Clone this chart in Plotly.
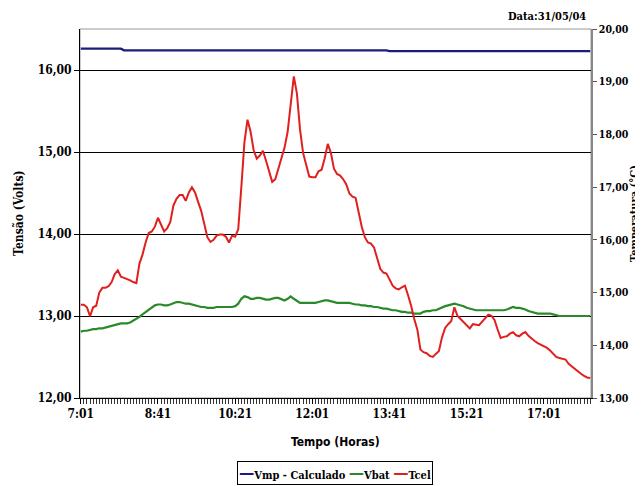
import plotly.graph_objects as go

# time axis: samples every 4 minutes starting 7:01 (minutes since midnight)
start_min = 421
step_min = 4
n_points = 166
time_min = [start_min + step_min * i for i in range(n_points)]

tick_minutes = [421, 521, 621, 721, 821, 921, 1021]
tick_labels = ["7:01", "8:41", "10:21", "12:01", "13:41", "15:21", "17:01"]

vmp = [16.26] * 14 + [16.24] * 86 + [16.23] * 66

vbat = [
    12.81, 12.82, 12.82, 12.83, 12.84, 12.84, 12.85, 12.85, 12.86, 12.87,
    12.88, 12.89, 12.90, 12.91, 12.91, 12.91, 12.92, 12.94, 12.97, 12.99,
    13.02, 13.05, 13.08, 13.11, 13.13, 13.14, 13.14, 13.13, 13.13, 13.14,
    13.16, 13.17, 13.17, 13.16, 13.15, 13.15, 13.14, 13.13, 13.12, 13.11,
    13.11, 13.10, 13.10, 13.10, 13.11, 13.11, 13.11, 13.11, 13.11, 13.11,
    13.12, 13.15, 13.21, 13.24, 13.23, 13.21, 13.21, 13.22, 13.22, 13.21,
    13.20, 13.20, 13.21, 13.22, 13.22, 13.20, 13.19, 13.21, 13.24, 13.21,
    13.18, 13.16, 13.16, 13.16, 13.16, 13.16, 13.16, 13.17, 13.18, 13.19,
    13.19, 13.18, 13.17, 13.16, 13.16, 13.16, 13.16, 13.16, 13.15, 13.14,
    13.14, 13.13, 13.13, 13.12, 13.12, 13.11, 13.11, 13.10, 13.09, 13.09,
    13.08, 13.07, 13.07, 13.06, 13.05, 13.05, 13.04, 13.04, 13.03, 13.03,
    13.03, 13.05, 13.06, 13.06, 13.07, 13.07, 13.09, 13.11, 13.12, 13.13,
    13.14, 13.15, 13.14, 13.13, 13.12, 13.10, 13.09, 13.08, 13.07, 13.07,
    13.07, 13.07, 13.07, 13.07, 13.07, 13.07, 13.07, 13.07, 13.08, 13.10,
    13.11, 13.10, 13.10, 13.09, 13.08, 13.06, 13.05, 13.04, 13.03, 13.03,
    13.03, 13.03, 13.03, 13.02, 13.01, 13.00, 13.00, 13.00, 13.00, 13.00,
    13.00, 13.00, 13.00, 13.00, 13.00, 13.00,
]

tcel = [
    14.77, 14.77, 14.72, 14.55, 14.72, 14.75, 15.00, 15.09, 15.09, 15.12,
    15.20, 15.35, 15.42, 15.30, 15.28, 15.26, 15.23, 15.20, 15.18, 15.55,
    15.72, 15.95, 16.13, 16.16, 16.25, 16.42, 16.30, 16.16, 16.22, 16.34,
    16.65, 16.78, 16.85, 16.85, 16.74, 16.90, 17.00, 16.90, 16.72, 16.55,
    16.30, 16.05, 15.96, 16.00, 16.08, 16.10, 16.10, 16.06, 15.95, 16.08,
    16.06, 16.20, 17.00, 17.85, 18.28, 18.05, 17.70, 17.54, 17.60, 17.69,
    17.50, 17.30, 17.10, 17.15, 17.35, 17.60, 17.75, 18.05, 18.58, 19.10,
    18.78, 18.10, 17.65, 17.42, 17.20, 17.19, 17.19, 17.30, 17.33, 17.55,
    17.82, 17.65, 17.35, 17.25, 17.22, 17.15, 17.05, 16.88, 16.82, 16.80,
    16.50, 16.25, 16.05, 15.95, 15.93, 15.85, 15.65, 15.45, 15.38, 15.36,
    15.25, 15.13, 15.08, 15.06, 15.10, 15.13, 14.95, 14.75, 14.50, 14.30,
    13.92, 13.87, 13.85, 13.80, 13.78, 13.84, 13.89, 14.15, 14.33, 14.40,
    14.46, 14.72, 14.56, 14.50, 14.44, 14.38, 14.32, 14.40, 14.39, 14.38,
    14.45, 14.52, 14.58, 14.56, 14.48, 14.30, 14.14, 14.16, 14.17, 14.22,
    14.25, 14.19, 14.17, 14.22, 14.25, 14.18, 14.12, 14.08, 14.04, 14.01,
    13.98, 13.95, 13.90, 13.83, 13.78, 13.76, 13.74, 13.73, 13.65, 13.60,
    13.56, 13.51, 13.46, 13.42, 13.39, 13.38,
]

series_names = ["Vmp - Calculado", "Vbat", "Tcel"]
series_colors = ["#1c1c7a", "#2a8a2a", "#e0201e"]

serif = "DejaVu Serif Condensed"
tfont = dict(family=serif, size=12, color="black", weight="bold")
rfont = dict(family=serif, size=10.5, color="black", weight="bold")
sfont = dict(family=serif, size=11, color="black", weight="bold")

fig = go.Figure()
fig.add_trace(go.Scatter(x=time_min, y=vmp, mode="lines", name=series_names[0],
                         line=dict(color=series_colors[0], width=2.2)))
fig.add_trace(go.Scatter(x=time_min, y=vbat, mode="lines", name=series_names[1],
                         line=dict(color=series_colors[1], width=2.2)))
fig.add_trace(go.Scatter(x=time_min, y=tcel, mode="lines", name=series_names[2], yaxis="y2",
                         line=dict(color=series_colors[2], width=2)))

legend_text = "".join(
    f"<span style='color:{c};font-size:17px'>—</span>{n} "
    for n, c in zip(series_names, series_colors)
).rstrip()

fig.update_layout(
    width=635, height=478,
    margin=dict(l=72, r=52, t=21, b=88),
    paper_bgcolor="white", plot_bgcolor="white",
    separators=",.",
    showlegend=False,
    xaxis=dict(range=[420, 1082], tickmode="array", tickvals=tick_minutes, ticktext=tick_labels,
               showgrid=False, zeroline=False, showline=True, linecolor="black", linewidth=1,
               ticks="outside", ticklen=5, tickcolor="black",
               minor=dict(ticks="outside", ticklen=5, tick0=421, dtick=4, tickcolor="#333"),
               tickfont=tfont),
    yaxis=dict(range=[12, 16.5], tickmode="linear", tick0=12, dtick=1, tickformat=".2f",
               showgrid=True, gridcolor="black", gridwidth=1, zeroline=False,
               showline=True, linecolor="black", linewidth=1,
               ticks="outside", ticklen=5, tickcolor="black",
               tickfont=tfont),
    yaxis2=dict(range=[13, 20], overlaying="y", side="right", tickmode="linear", tick0=13, dtick=1,
                tickformat=".2f", showgrid=False, zeroline=False,
                showline=True, linecolor="#888", linewidth=1.5,
                ticks="outside", ticklen=4, tickcolor="#555",
                tickfont=rfont),
    shapes=[dict(type="rect", xref="paper", yref="paper", x0=0, x1=1, y0=0, y1=1,
                 line=dict(color="#999", width=1), layer="below")],
    annotations=[
        dict(text="Tensão (Volts)", xref="paper", yref="paper", x=-0.121, y=0.5,
             xanchor="center", yanchor="middle", textangle=-90, showarrow=False,
             font=tfont),
        dict(text="Temperatura (°C)", xref="paper", yref="paper", x=1.085, y=0.5,
             xanchor="center", yanchor="middle", textangle=-90, showarrow=False,
             font=sfont),
        dict(text="Tempo (Horas)", xref="paper", yref="paper", x=0.5, y=-0.119,
             xanchor="center", yanchor="middle", showarrow=False,
             font=dict(family="DejaVu Sans Condensed", size=12, color="black", weight="bold")),
        dict(text="Data:31/05/04", xref="paper", yref="paper", x=0.995, y=1.01,
             xanchor="right", yanchor="bottom", showarrow=False,
             font=sfont),
        dict(text=legend_text, xref="paper", yref="paper", x=0.499, y=-0.203,
             xanchor="center", yanchor="middle", showarrow=False,
             bordercolor="black", borderwidth=1, borderpad=1, bgcolor="white",
             font=sfont),
    ],
)

fig.write_html("out.html")
